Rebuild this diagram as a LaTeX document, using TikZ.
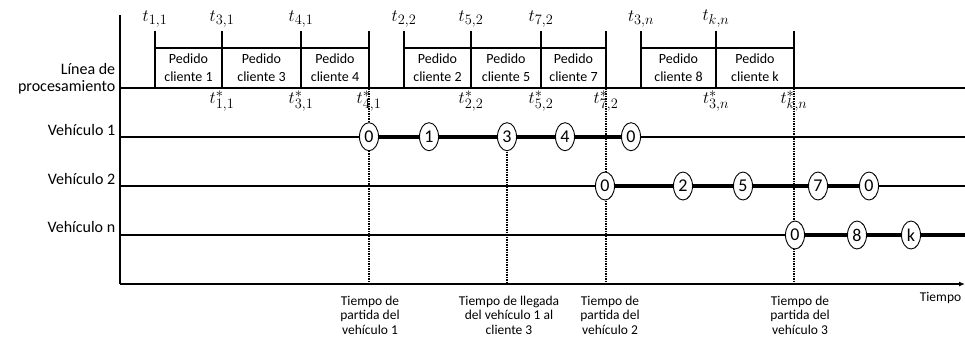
\documentclass[tikz,border=0pt]{standalone}
\usepackage{fontspec}
\setmainfont{Carlito}
\usetikzlibrary{arrows.meta,shapes.geometric}
\newcommand{\tip}{-{Latex[length=6pt,width=5pt]}}

\begin{document}
\begin{tikzpicture}[x=1pt,y=-1pt,line width=1.6pt,
  stop/.style={ellipse,draw,fill=white,line width=.9pt,minimum width=19pt,
    minimum height=28pt,inner sep=0pt,font=\fontsize{18}{18}\selectfont},
  route/.style={line width=4pt},
  mark line/.style={dash pattern=on 1.5pt off 1pt,line width=1.2pt},
  side/.style={anchor=east,inner sep=0pt,font=\fontsize{16}{16}\selectfont},
  order/.style={align=center,font=\fontsize{14}{18}\selectfont},
  note/.style={align=center,anchor=north,inner sep=0pt,font=\fontsize{13.5}{14.5}\selectfont},
  tlab/.style={font=\fontsize{19}{19}\selectfont,inner sep=0pt}]
\useasboundingbox (0,0) rectangle (965,341);
% axes
\coordinate (o) at (120,284);
\coordinate (top) at (120,15);
\coordinate (end) at (965,284);
\draw (top) -- (o);
\draw[\tip] (o) -- (end);
\node[anchor=east,inner sep=0pt,font=\fontsize{13.5}{13.5}\selectfont] (tiempo) at (962,298) {Tiempo};
% processing line and vehicle lines
\draw (120,88) -- (965,88);
\draw (120,136.7) -- (965,136.7);
\draw (120,186) -- (965,186);
\draw (120,235) -- (965,235);
\node[side] (linea) at (116,69) {Línea de};
\node[side] (proc) at (116,87) {procesamiento};
\node[side] (v1) at (116,130) {Vehículo 1};
\node[side] (v2) at (116,179) {Vehículo 2};
\node[side] (vn) at (116,227) {Vehículo n};
% orders
\foreach \x in {155,222,301,369,404,471,541,606,641,716,794}
  \draw (\x,31) -- (\x,88);
\draw (155,48) -- (369,48);
\draw (404,48) -- (606,48);
\draw (641,48) -- (794,48);
\foreach \x/\c in {188.5/1,261.5/3,335/4,437.5/2,506/5,573.5/7,678.5/8,755/k}
  \node[order] at (\x,68) {Pedido\\cliente \c};
\foreach \x/\lab in {155/{1,1},222/{3,1},301/{4,1},404/{2,2},471/{5,2},541/{7,2},641/{3,n},716/{k,n}}
  \node[tlab] at (\x,19) {$t_{\lab}$};
\foreach \x/\lab in {222/{1,1},301/{3,1},369/{4,1},471/{2,2},541/{5,2},606/{7,2},716/{3,n},794/{k,n}}
  \node[tlab] at (\x,101) {$t^*_{\lab}$};
% marks
\coordinate (m1) at (369,88);
\coordinate (m2) at (507,136.7);
\coordinate (m3) at (606,88);
\coordinate (m4) at (794,88);
\foreach \m in {m1,m2,m3,m4}
  \draw[mark line] (\m) -- (\m |- o);
% vehicle 1
\node[stop] (a0) at (369,136.7) {0};
\node[stop] (a1) at (429,136.7) {1};
\node[stop] (a3) at (507,136.7) {3};
\node[stop] (a4) at (565,136.7) {4};
\node[stop] (a5) at (631,136.7) {0};
\draw[route] (a0) -- (a1) (a1) -- (a3) (a3) -- (a4) (a4) -- (a5);
% vehicle 2
\node[stop] (b0) at (605,186) {0};
\node[stop] (b2) at (683,186) {2};
\node[stop] (b5) at (743,186) {5};
\node[stop] (b7) at (818,186) {7};
\node[stop] (b9) at (869,186) {0};
\draw[route] (b0) -- (b2) (b2) -- (b5) (b5) -- (b7) (b7) -- (b9);
% vehicle n
\coordinate (cend) at (965,235);
\node[stop] (c0) at (795,235) {0};
\node[stop] (c8) at (857,235) {8};
\node[stop] (ck) at (911,235) {k};
\draw[route] (c0) -- (c8) (c8) -- (ck) (ck) -- (cend);
% notes
\node[note] (n1) at (370,295) {Tiempo de\\partida del\\vehículo 1};
\node[note] (n2) at (509,295) {Tiempo de llegada\\del vehículo 1 al\\cliente 3};
\node[note] (n3) at (610,295) {Tiempo de\\partida del\\vehículo 2};
\node[note] (n4) at (800,295) {Tiempo de\\partida del\\vehículo 3};
\end{tikzpicture}
\end{document}
